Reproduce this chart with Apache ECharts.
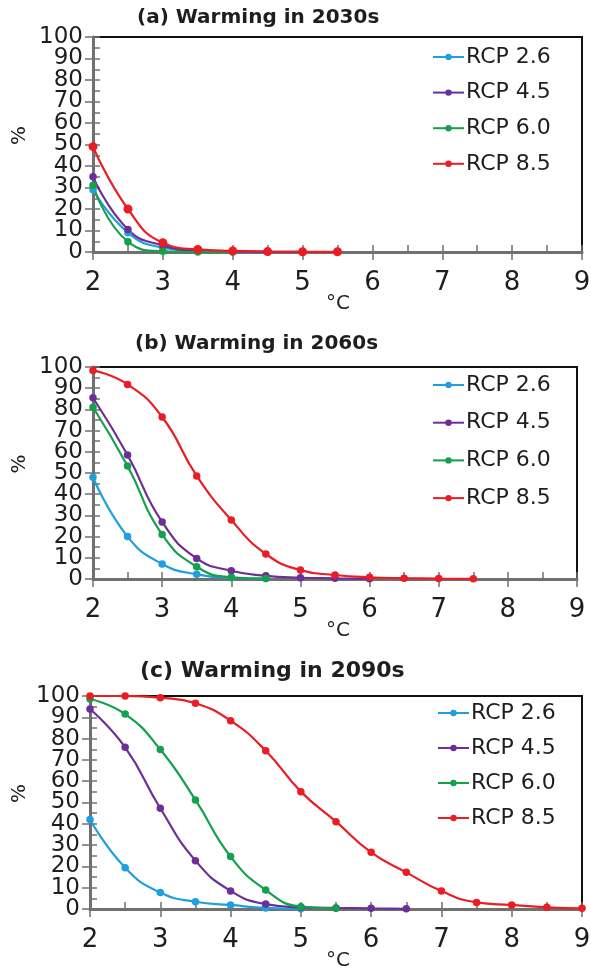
<!DOCTYPE html>
<html>
<head>
<meta charset="utf-8">
<script src="https://cdn.jsdelivr.net/npm/echarts@6/dist/echarts.min.js"></script>
<style>
  html, body { margin: 0; padding: 0; background: #fff; }
  #chart { width: 591px; height: 973px; }
</style>
</head>
<body>
<div id="chart"></div>
<script>
// Warming levels (°C) along the x axis, sampled every half degree
const warming = [2, 2.5, 3, 3.5, 4, 4.5, 5, 5.5, 6, 6.5, 7, 7.5, 8, 8.5, 9];
const xTicks = [2, 3, 4, 5, 6, 7, 8, 9];
const yTicks = [0, 10, 20, 30, 40, 50, 60, 70, 80, 90, 100];

const scenarios = ['RCP 2.6', 'RCP 4.5', 'RCP 6.0', 'RCP 8.5'];
const panelTitles = ['(a) Warming in 2030s', '(b) Warming in 2060s', '(c) Warming in 2090s'];

// (a) 2030s — percentage exceeding each warming level
const a_rcp26 = [29, 9, 2, 0.5, 0.2, 0.1];
const a_rcp45 = [35, 10.5, 3, 0.6, 0.2, 0.1, 0.05];
const a_rcp60 = [31, 4.8, 0.3, 0, 0];
const a_rcp85 = [49, 20, 4.3, 1.2, 0.5, 0.2, 0.1, 0.1];

// (b) 2060s
const b_rcp26 = [48, 20, 7.1, 2.2, 0.6, 0.2];
const b_rcp45 = [85.5, 58.5, 26.9, 9.7, 3.9, 1.5, 0.6, 0.3, 0.1];
const b_rcp60 = [81, 53.3, 21, 5.8, 0.8, 0.2];
const b_rcp85 = [98.4, 91.8, 76.4, 48.6, 27.8, 11.8, 4.2, 1.9, 0.8, 0.4, 0.2, 0.1];

// (c) 2090s
const c_rcp26 = [42, 19.4, 7.7, 3.4, 1.9, 0.5, 0.1];
const c_rcp45 = [93.9, 75.9, 47.3, 22.7, 8.5, 2.3, 0.8, 0.5, 0.3, 0.1];
const c_rcp60 = [98.6, 91.5, 74.9, 51.2, 24.6, 8.9, 1.1, 0.3];
const c_rcp85 = [100, 100, 99.2, 96.6, 88.4, 74.3, 55.1, 41, 26.6, 17.2, 8.4, 3.1, 1.9, 0.8, 0.3];

const panelData = [
  [a_rcp26, a_rcp45, a_rcp60, a_rcp85],
  [b_rcp26, b_rcp45, b_rcp60, b_rcp85],
  [c_rcp26, c_rcp45, c_rcp60, c_rcp85]
];

const colors = ['#1f9fdc', '#6b2f97', '#14a14c', '#ea1d25'];
const FONT = 'DejaVu Sans';
const AXIS_GREY = '#707070';
const TEXT = '#1e1e1e';

// Layout of the three stacked panels
const grids = [
  { left: 93, top: 37, width: 489, height: 215 },
  { left: 93, top: 367, width: 484, height: 212 },
  { left: 90, top: 696, width: 492, height: 213 }
];
const titlePos = [
  { left: 137, top: 8, size: 20 },
  { left: 135, top: 334, size: 20 },
  { left: 140, top: 660, size: 22 }
];
const legendPos = [
  { left: 432, top: 45, gap: 11.6 },
  { left: 432, top: 373, gap: 13.7 },
  { left: 437, top: 701, gap: 11 }
];

const yMin = yTicks[0];
const yMax = yTicks[yTicks.length - 1];
const yLabelStyle = { fontFamily: FONT, fontSize: 23, color: TEXT, margin: 10 };

const option = {
  backgroundColor: '#fff',
  animation: false,
  title: [],
  legend: [],
  grid: [],
  xAxis: [],
  yAxis: [],
  series: [],
  graphic: []
};

grids.forEach((g, i) => {
  option.grid.push({
    left: g.left, top: g.top, width: g.width, height: g.height,
    show: true, borderColor: '#111', borderWidth: 2,
    backgroundColor: 'transparent', containLabel: false, outerBoundsMode: 'none'
  });

  option.title.push({
    text: panelTitles[i],
    left: titlePos[i].left, top: titlePos[i].top, padding: 0,
    textStyle: { fontFamily: FONT, fontWeight: 'bold', fontSize: titlePos[i].size, color: TEXT }
  });

  // main x axis: labels and outward ticks at whole degrees
  option.xAxis.push({
    gridIndex: i, type: 'value', min: xTicks[0], max: xTicks[xTicks.length - 1], interval: 1,
    position: 'bottom',
    axisLine: { onZero: false, lineStyle: { color: AXIS_GREY, width: 3 } },
    axisTick: { show: true, length: 8, lineStyle: { color: AXIS_GREY, width: 1.5 } },
    axisLabel: { fontFamily: FONT, fontSize: 26, color: TEXT, margin: 18,
                 showMinLabel: true, showMaxLabel: true },
    splitLine: { show: false }
  });
  // companion x axis: inward ticks every half degree
  option.xAxis.push({
    gridIndex: i, type: 'value', min: xTicks[0], max: xTicks[xTicks.length - 1], interval: 0.5,
    position: 'bottom',
    axisLine: { show: false, onZero: false },
    axisTick: { show: true, inside: true, length: 7, lineStyle: { color: AXIS_GREY, width: 1.5 } },
    axisLabel: { show: false },
    splitLine: { show: false }
  });

  // y axis line with the even labels (0, 20, … 100)
  option.yAxis.push({
    gridIndex: i, type: 'value', min: yMin, max: yMax, interval: 20,
    position: 'left',
    axisLine: { show: true, onZero: false, lineStyle: { color: AXIS_GREY, width: 3 } },
    axisTick: { show: true, length: 8, lineStyle: { color: AXIS_GREY, width: 1.5 } },
    axisLabel: Object.assign({ showMinLabel: true, showMaxLabel: true }, yLabelStyle),
    splitLine: { show: false }
  });
  // y ticks every 10 % with the odd labels (10, 30, … 90)
  option.yAxis.push({
    gridIndex: i, type: 'value', min: yMin, max: yMax, interval: 10,
    position: 'left',
    axisLine: { show: false, onZero: false },
    axisTick: { show: true, length: 8, lineStyle: { color: AXIS_GREY, width: 1.5 } },
    axisLabel: Object.assign({
      showMinLabel: false, showMaxLabel: false,
      formatter: v => (v % 20 === 10 ? String(v) : '')
    }, yLabelStyle),
    splitLine: { show: false }
  });
  // inward minor ticks every 5 %
  option.yAxis.push({
    gridIndex: i, type: 'value', min: yMin, max: yMax, interval: 5,
    position: 'left',
    axisLine: { show: false, onZero: false },
    axisTick: { show: true, inside: true, length: 7, lineStyle: { color: AXIS_GREY, width: 1.5 } },
    axisLabel: { show: false },
    splitLine: { show: false }
  });

  option.legend.push({
    orient: 'vertical',
    left: legendPos[i].left, top: legendPos[i].top, padding: 0,
    itemGap: legendPos[i].gap, itemWidth: 31, itemHeight: 8,
    textStyle: { fontFamily: FONT, fontSize: 22, color: TEXT, lineHeight: 24, padding: [0, 0, 0, -3] },
    data: scenarios
  });

  panelData[i].forEach((vals, s) => {
    option.series.push({
      name: scenarios[s],
      type: 'line',
      xAxisIndex: 2 * i, yAxisIndex: 3 * i,
      smooth: true,
      symbol: 'circle',
      symbolSize: (s === 3 && i === 0) ? 9 : 7.5,
      showSymbol: true,
      itemStyle: { color: colors[s] },
      lineStyle: { color: colors[s], width: 2.2 },
      emphasis: { disabled: true },
      data: vals.map((v, k) => [warming[k], v])
    });
  });

  // axis names
  option.graphic.push({
    type: 'text', x: 20, y: g.top + g.height / 2 - 9, rotation: Math.PI / 2,
    style: { text: '%', font: '20px "DejaVu Sans"', fill: TEXT, align: 'center', verticalAlign: 'middle' }
  });
  option.graphic.push({
    type: 'text', x: 338, y: g.top + g.height + 52,
    style: { text: '°C', font: '20px "DejaVu Sans"', fill: TEXT, align: 'center', verticalAlign: 'middle' }
  });
});

const chart = echarts.init(document.getElementById('chart'), null, { renderer: 'canvas' });
chart.setOption(option);
</script>
</body>
</html>
